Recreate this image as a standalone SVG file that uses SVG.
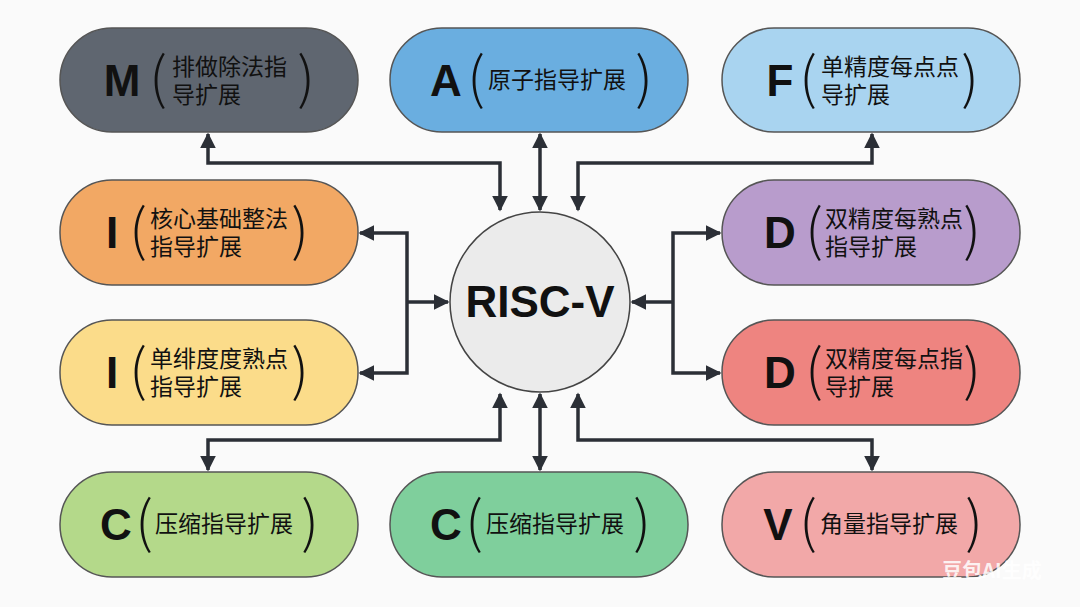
<svg xmlns="http://www.w3.org/2000/svg" width="1080" height="607" viewBox="0 0 1080 607">
<style>
.n{stroke:#555;stroke-width:1.5}
.L{font-family:"Liberation Sans",Arial,sans-serif;font-weight:bold;font-size:44px;fill:#111;text-anchor:middle}
.P{font-family:"Noto Sans CJK SC",sans-serif;font-size:56px;fill:#111;font-weight:300;text-anchor:middle}
.T{font-family:"Noto Sans CJK SC",sans-serif;font-size:23px;fill:#111}
.c{fill:none;stroke:#2b2f36;stroke-width:3.5}
</style>
<defs>
<marker id="a" viewBox="0 0 10 10" refX="9" refY="5" markerWidth="4.5" markerHeight="4.5" orient="auto-start-reverse"><path d="M0,0L10,5L0,10z" fill="#2b2f36"/></marker>
</defs>
<rect width="1080" height="607" fill="#fafafa"/>
<g id="connectors">
<path class="c" d="M500,210V163H208V134" marker-start="url(#a)" marker-end="url(#a)"/>
<path class="c" d="M540,210V134" marker-start="url(#a)" marker-end="url(#a)"/>
<path class="c" d="M578,210V163H872V134" marker-start="url(#a)" marker-end="url(#a)"/>
<path class="c" d="M360,233H407V373H360" marker-start="url(#a)" marker-end="url(#a)"/>
<path class="c" d="M407,302H448" marker-end="url(#a)"/>
<path class="c" d="M720,233H673V373H720" marker-start="url(#a)" marker-end="url(#a)"/>
<path class="c" d="M673,302H632" marker-end="url(#a)"/>
<path class="c" d="M500,394V440H208V470" marker-start="url(#a)" marker-end="url(#a)"/>
<path class="c" d="M540,394V470" marker-start="url(#a)" marker-end="url(#a)"/>
<path class="c" d="M578,394V440H872V470" marker-start="url(#a)" marker-end="url(#a)"/>
</g>
<g id="center"><circle cx="540" cy="302" r="90" fill="#ebebeb" stroke="#444" stroke-width="1.5"/><text x="540" y="317" class="L" font-size="40">RISC-V</text></g>
<g id="M"><rect class="n" x="60" y="28" width="298" height="104" rx="52" fill="#5f6670"/><text x="122" y="96" class="L">M</text><text x="158" y="98" class="P">(</text><text class="T"><tspan x="172" y="75">排做除法指</tspan><tspan x="172" y="103">导扩展</tspan></text><text x="306" y="98" class="P">)</text></g>
<g id="A"><rect class="n" x="390" y="28" width="298" height="104" rx="52" fill="#6aaee0"/><text x="446" y="96" class="L">A</text><text x="476" y="98" class="P">(</text><text x="488" y="88" class="T">原子指导扩展</text><text x="644" y="98" class="P">)</text></g>
<g id="F"><rect class="n" x="722" y="28" width="298" height="104" rx="52" fill="#a9d4f0"/><text x="780" y="96" class="L">F</text><text x="808" y="98" class="P">(</text><text class="T"><tspan x="821" y="75">单精度每点点</tspan><tspan x="821" y="103">导扩展</tspan></text><text x="970" y="98" class="P">)</text></g>
<g id="I1"><rect class="n" x="60" y="180" width="298" height="105" rx="52" fill="#f2a864"/><text x="112" y="248" class="L">I</text><text x="138" y="250" class="P">(</text><text class="T"><tspan x="150" y="227">核心基础整法</tspan><tspan x="150" y="255">指导扩展</tspan></text><text x="300" y="250" class="P">)</text></g>
<g id="I2"><rect class="n" x="60" y="320" width="298" height="105" rx="52" fill="#fbdc8a"/><text x="112" y="388" class="L">I</text><text x="138" y="390" class="P">(</text><text class="T"><tspan x="150" y="367">单绯度度熟点</tspan><tspan x="150" y="395">指导扩展</tspan></text><text x="300" y="390" class="P">)</text></g>
<g id="D1"><rect class="n" x="722" y="180" width="298" height="105" rx="52" fill="#b89ccc"/><text x="780" y="248" class="L">D</text><text x="814" y="250" class="P">(</text><text class="T"><tspan x="825" y="227">双精度每熟点</tspan><tspan x="825" y="255">指导扩展</tspan></text><text x="972" y="250" class="P">)</text></g>
<g id="D2"><rect class="n" x="722" y="320" width="298" height="105" rx="52" fill="#ee8480"/><text x="780" y="388" class="L">D</text><text x="814" y="390" class="P">(</text><text class="T"><tspan x="825" y="367">双精度每点指</tspan><tspan x="825" y="395">导扩展</tspan></text><text x="972" y="390" class="P">)</text></g>
<g id="C1"><rect class="n" x="60" y="472" width="298" height="105" rx="52" fill="#b4d98a"/><text x="116" y="540" class="L">C</text><text x="144" y="542" class="P">(</text><text x="155" y="532" class="T">压缩指导扩展</text><text x="310" y="542" class="P">)</text></g>
<g id="C2"><rect class="n" x="390" y="472" width="298" height="105" rx="52" fill="#7fcf9c"/><text x="446" y="540" class="L">C</text><text x="474" y="542" class="P">(</text><text x="486" y="532" class="T">压缩指导扩展</text><text x="642" y="542" class="P">)</text></g>
<g id="V"><rect class="n" x="722" y="472" width="298" height="105" rx="52" fill="#f2a8a8"/><text x="778" y="540" class="L">V</text><text x="808" y="542" class="P">(</text><text x="820" y="532" class="T">角量指导扩展</text><text x="974" y="542" class="P">)</text></g>
<text x="992" y="578" font-family="Noto Sans CJK SC,sans-serif" font-size="20" font-weight="bold" fill="#fff" fill-opacity="0.85" text-anchor="middle">豆包AI生成</text>
</svg>
